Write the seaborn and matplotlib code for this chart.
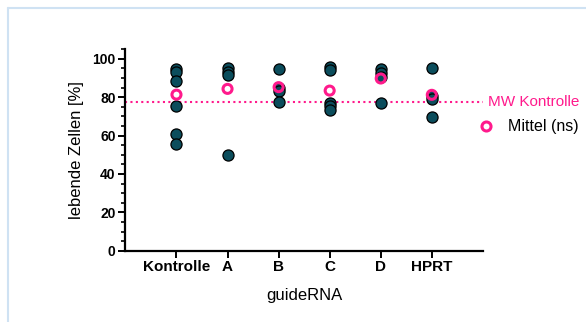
import pandas as pd
import matplotlib.pyplot as plt
import seaborn as sns
from matplotlib.lines import Line2D
from matplotlib.ticker import MultipleLocator

# Daten
gruppen = ['Kontrolle', 'A', 'B', 'C', 'D', 'HPRT']
kontrolle = [94.8, 93.0, 88.5, 75.6, 60.6, 55.7]
guide_a = [95.3, 93.2, 91.6, 50.0]
guide_b = [94.4, 84.8, 83.0, 77.5]
guide_c = [95.5, 94.0, 77.0, 75.6, 73.5]
guide_d = [94.8, 92.7, 90.6, 77.0]
hprt = [95.3, 80.8, 79.1, 69.7]
mittel = [81.3, 84.3, 85.2, 83.4, 89.7, 81.2]
mw_kontrolle = 77.5

werte = [kontrolle, guide_a, guide_b, guide_c, guide_d, hprt]
df = pd.DataFrame([(g, v) for g, vals in zip(gruppen, werte) for v in vals],
                  columns=['guideRNA', 'lebend'])
df_mw = pd.DataFrame({'guideRNA': gruppen, 'lebend': mittel})

pink = '#ff1a8c'
teal = '#0b4d5c'

sns.set_style('white')
plt.rcParams['font.family'] = ['Liberation Sans', 'DejaVu Sans']
plt.rcParams.update({'text.color': 'black', 'axes.labelcolor': 'black',
                     'xtick.color': 'black', 'ytick.color': 'black',
                     'axes.edgecolor': 'black'})

fig = plt.figure(figsize=(5.86, 3.22), dpi=100)
ax = fig.add_axes([0.214, 0.2214, 0.61, 0.626])

sns.stripplot(data=df, x='guideRNA', y='lebend', order=gruppen, jitter=False,
              color=teal, size=8, linewidth=0.9, edgecolor='black', ax=ax, zorder=3)
sns.stripplot(data=df_mw, x='guideRNA', y='lebend', order=gruppen, jitter=False,
              color=pink, facecolor='none', edgecolor=pink, size=6.5, linewidth=2.2,
              ax=ax, zorder=4)

ax.axhline(mw_kontrolle, color=pink, linestyle=(0, (1, 1.6)), linewidth=1.5, zorder=2)
ax.text(1.013, mw_kontrolle, 'MW Kontrolle', color=pink, fontsize=11,
        va='center', ha='left', transform=ax.get_yaxis_transform(), clip_on=False)

ax.set_xlim(-1, 6)
ax.set_ylim(0, 105)
ax.yaxis.set_major_locator(MultipleLocator(20))
ax.yaxis.set_minor_locator(MultipleLocator(5))
ax.set_ylabel('lebende Zellen [%]', fontsize=12, labelpad=6)
ax.set_xlabel('guideRNA', fontsize=12, labelpad=10)
sns.despine(ax=ax)
for s in ['left', 'bottom']:
    ax.spines[s].set_linewidth(1.6)
    ax.spines[s].set_color('black')
ax.tick_params(axis='both', which='major', direction='out', length=5, width=1.4,
               left=True, bottom=True, pad=2, colors='black')
ax.tick_params(axis='y', which='minor', direction='out', length=3, width=1.2, left=True,
               colors='black')
for lbl in ax.get_yticklabels():
    lbl.set_fontweight('bold')
    lbl.set_fontsize(10)
for lbl in ax.get_xticklabels():
    lbl.set_fontweight('bold')
    lbl.set_fontsize(11)

handle = Line2D([], [], linestyle='none', marker='o', markersize=6.5,
                markerfacecolor='none', markeredgecolor=pink, markeredgewidth=2.2)
ax.legend([handle], ['Mittel (ns)'], loc='center left', bbox_to_anchor=(0.986, 0.614),
          frameon=False, fontsize=11.5, handlelength=1.0, handletextpad=0.9,
          borderaxespad=0, borderpad=0)

# heller Rahmen oben/links
fig.add_artist(Line2D([8 / 586, 8 / 586], [0, 1 - 8 / 322], color='#cfe2f3', lw=1.5))
fig.add_artist(Line2D([8 / 586, 1], [1 - 8 / 322, 1 - 8 / 322], color='#cfe2f3', lw=1.5))

fig.savefig('out.png', dpi=100)
